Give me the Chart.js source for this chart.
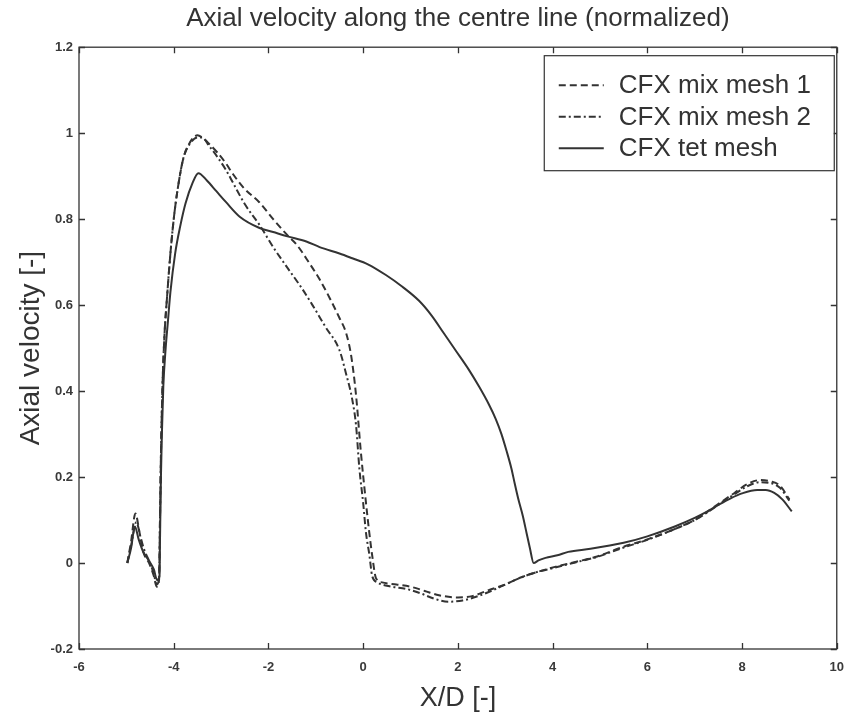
<!DOCTYPE html>
<html><head><meta charset="utf-8">
<script src="https://cdn.jsdelivr.net/npm/chart.js@4.4.0/dist/chart.umd.min.js"></script>
<style>html,body{margin:0;padding:0;background:#fff}</style>
</head><body>
<canvas id="c" width="855" height="715"></canvas>
<script>
// ---- data ----
const seriesLabels = ['CFX mix mesh 1', 'CFX mix mesh 2', 'CFX tet mesh'];

const mesh1X = [-4.98,-4.9,-4.81,-4.72,-4.64,-4.52,-4.42,-4.36,-4.31,-4.29,-4.27,-4.24,-4.2,-4.14,-4.07,-4.0,-3.93,-3.8,-3.66,-3.5,-3.4,-3.25,-3.08,-2.9,-2.75,-2.5,-2.2,-1.9,-1.62,-1.4,-1.15,-0.92,-0.7,-0.5,-0.36,-0.25,-0.15,-0.05,0.05,0.13,0.2,0.27,0.4,0.7,1.0,1.3,1.6,2.0,2.3,2.65,3.0,3.34,3.7,4.05,4.5,4.9,5.5,6.0,6.6,7.0,7.3,7.6,7.84,8.1,8.38,8.6,8.8,9.0];
const mesh1Y = [0,0.05,0.115,0.07,0.025,0.0,-0.03,-0.055,-0.04,0.1,0.25,0.4,0.52,0.62,0.72,0.8,0.86,0.94,0.978,0.995,0.99,0.975,0.955,0.93,0.905,0.87,0.84,0.8,0.765,0.74,0.7,0.66,0.615,0.57,0.535,0.48,0.39,0.26,0.15,0.07,0.01,-0.035,-0.045,-0.05,-0.055,-0.065,-0.075,-0.08,-0.077,-0.063,-0.05,-0.033,-0.02,-0.009,0.003,0.014,0.038,0.055,0.08,0.1,0.122,0.145,0.163,0.183,0.193,0.19,0.18,0.148];

const mesh2X = [-4.98,-4.9,-4.79,-4.7,-4.62,-4.52,-4.42,-4.36,-4.31,-4.29,-4.27,-4.24,-4.2,-4.14,-4.07,-4.0,-3.93,-3.8,-3.66,-3.5,-3.4,-3.25,-3.08,-2.9,-2.75,-2.5,-2.18,-1.9,-1.62,-1.3,-1.07,-0.8,-0.5,-0.36,-0.23,-0.15,-0.08,0.0,0.06,0.13,0.19,0.3,0.6,0.9,1.2,1.5,1.8,2.1,2.4,2.7,3.0,3.3,3.7,4.0,4.5,4.9,5.5,6.0,6.6,7.0,7.3,7.6,7.84,8.1,8.38,8.6,8.8,9.0];
const mesh2Y = [0,0.04,0.095,0.06,0.03,0.005,-0.025,-0.05,-0.035,0.1,0.25,0.4,0.52,0.62,0.72,0.8,0.86,0.94,0.975,0.99,0.99,0.97,0.945,0.915,0.885,0.835,0.785,0.735,0.69,0.64,0.6,0.55,0.495,0.44,0.38,0.32,0.22,0.14,0.07,0.02,-0.03,-0.045,-0.055,-0.06,-0.07,-0.083,-0.09,-0.087,-0.078,-0.065,-0.05,-0.035,-0.02,-0.012,0.002,0.013,0.036,0.054,0.08,0.1,0.12,0.143,0.16,0.178,0.188,0.186,0.175,0.145];

const tetX = [-4.98,-4.9,-4.82,-4.74,-4.64,-4.52,-4.42,-4.35,-4.3,-4.29,-4.27,-4.25,-4.22,-4.17,-4.12,-4.07,-3.97,-3.86,-3.75,-3.6,-3.48,-3.3,-3.1,-2.9,-2.6,-2.2,-1.9,-1.6,-1.2,-0.92,-0.5,-0.23,0.1,0.48,0.8,1.18,1.45,1.7,1.95,2.23,2.45,2.65,2.8,2.92,3.03,3.13,3.2,3.28,3.37,3.45,3.52,3.6,3.7,3.85,4.1,4.33,4.8,5.5,6.0,6.58,7.0,7.27,7.5,7.75,8.0,8.32,8.5,8.68,8.85,9.05];
const tetY = [0,0.035,0.085,0.055,0.025,0.005,-0.015,-0.04,-0.03,0.05,0.2,0.3,0.41,0.5,0.565,0.63,0.72,0.785,0.837,0.885,0.907,0.89,0.865,0.84,0.805,0.78,0.77,0.76,0.748,0.735,0.72,0.709,0.695,0.67,0.645,0.61,0.575,0.535,0.495,0.45,0.41,0.37,0.335,0.3,0.26,0.22,0.185,0.147,0.11,0.07,0.035,0.0,0.006,0.012,0.018,0.026,0.033,0.047,0.062,0.085,0.105,0.12,0.135,0.15,0.162,0.17,0.17,0.163,0.148,0.12];

const xTicks = [-6, -4, -2, 0, 2, 4, 6, 8, 10];
const yTicks = [-0.2, 0, 0.2, 0.4, 0.6, 0.8, 1, 1.2];

// ---- styling ----
const ink = '#333333';
const FONT = '"Liberation Sans", Arial, Helvetica, sans-serif';

function pts(xs, ys) { return xs.map((x, i) => ({ x: x, y: ys[i] })); }

const framePlugin = {
  id: 'frame',
  beforeDraw(chart) {
    const ctx = chart.ctx;
    ctx.save();
    ctx.fillStyle = '#ffffff';
    ctx.fillRect(0, 0, chart.width, chart.height);
    ctx.restore();
  },
  afterDraw(chart) {
    const ctx = chart.ctx, ca = chart.chartArea;
    const xs = chart.scales.x, ys = chart.scales.y;
    ctx.save();
    ctx.strokeStyle = ink;
    ctx.lineWidth = 1.3;
    ctx.setLineDash([]);
    ctx.strokeRect(ca.left, ca.top, ca.right - ca.left, ca.bottom - ca.top);
    const L = 6;
    ctx.beginPath();
    xTicks.forEach(v => {
      const p = Math.round(xs.getPixelForValue(v)) + 0.5;
      ctx.moveTo(p, ca.bottom); ctx.lineTo(p, ca.bottom - L);
      ctx.moveTo(p, ca.top); ctx.lineTo(p, ca.top + L);
    });
    yTicks.forEach(v => {
      const p = Math.round(ys.getPixelForValue(v)) + 0.5;
      ctx.moveTo(ca.left, p); ctx.lineTo(ca.left + L, p);
      ctx.moveTo(ca.right, p); ctx.lineTo(ca.right - L, p);
    });
    ctx.stroke();

    // legend box (top-right, inside the axes)
    const bw = 290, bh = 115;
    const bx = ca.right - 293, by = ca.top + 8;
    ctx.fillStyle = '#ffffff';
    ctx.fillRect(bx, by, bw, bh);
    ctx.lineWidth = 1.2;
    ctx.strokeRect(bx + 0.5, by + 0.5, bw, bh);
    chart.data.datasets.forEach((ds, i) => {
      const y = by + 30 + i * 31.5;
      ctx.beginPath();
      ctx.setLineDash(ds.borderDash || []);
      ctx.lineWidth = ds.borderWidth;
      ctx.strokeStyle = ds.borderColor;
      ctx.moveTo(bx + 15, y); ctx.lineTo(bx + 60, y);
      ctx.stroke();
      ctx.setLineDash([]);
      ctx.fillStyle = ink;
      ctx.font = '26px ' + FONT;
      ctx.textBaseline = 'middle';
      ctx.textAlign = 'left';
      ctx.fillText(ds.label, bx + 75, y + 1);
    });
    ctx.restore();
  }
};

const common = { showLine: true, pointRadius: 0, borderWidth: 2, borderColor: ink, fill: false, cubicInterpolationMode: 'monotone' };

new Chart(document.getElementById('c'), {
  type: 'scatter',
  data: {
    datasets: [
      Object.assign({ label: seriesLabels[0], data: pts(mesh1X, mesh1Y), borderDash: [7, 4] }, common),
      Object.assign({ label: seriesLabels[1], data: pts(mesh2X, mesh2Y), borderDash: [7, 3, 2, 3] }, common),
      Object.assign({ label: seriesLabels[2], data: pts(tetX, tetY), borderDash: [] }, common)
    ]
  },
  options: {
    responsive: false,
    devicePixelRatio: 1,
    animation: false,
    layout: { padding: { left: 0, right: 15, top: 0, bottom: 0 } },
    plugins: {
      legend: { display: false },
      tooltip: { enabled: false },
      title: {
        display: true,
        text: 'Axial velocity along the centre line (normalized)',
        fullSize: false,
        color: ink,
        font: { family: FONT, size: 26, weight: 'normal' },
        padding: { top: 3, bottom: 13 }
      }
    },
    scales: {
      x: {
        type: 'linear', min: -6, max: 10,
        afterBuildTicks: s => { s.ticks = xTicks.map(v => ({ value: v })); },
        afterFit: s => { s.height = 66; },
        grid: { display: false, drawTicks: false },
        border: { display: false },
        ticks: { color: '#3a3a3a', padding: 11, font: { family: FONT, size: 13, weight: 'bold' }, callback: v => String(v), maxRotation: 0, autoSkip: false },
        title: { display: true, text: 'X/D [-]', color: ink, font: { family: FONT, size: 27 }, padding: { top: 7, bottom: 0 } }
      },
      y: {
        type: 'linear', min: -0.2, max: 1.2,
        afterBuildTicks: s => { s.ticks = yTicks.map(v => ({ value: v })); },
        afterFit: s => { s.width = 79; },
        grid: { display: false, drawTicks: false },
        border: { display: false },
        ticks: { color: '#3a3a3a', padding: 6, font: { family: FONT, size: 13, weight: 'bold' }, callback: v => String(+Number(v).toFixed(1)), autoSkip: false },
        title: { display: true, text: 'Axial velocity [-]', color: ink, font: { family: FONT, size: 28 }, padding: { top: 14, bottom: 0 } }
      }
    }
  },
  plugins: [framePlugin]
});
</script>
</body></html>
